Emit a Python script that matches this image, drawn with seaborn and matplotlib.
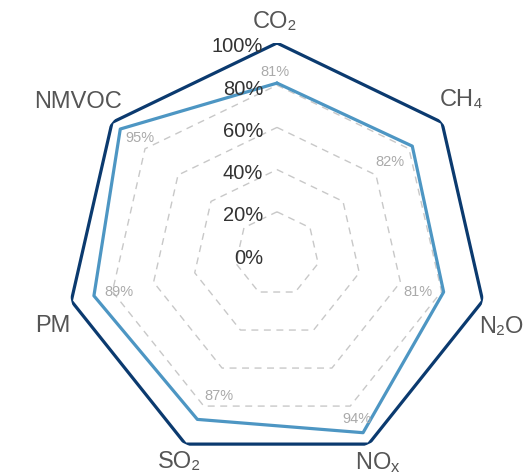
import numpy as np
import pandas as pd
import matplotlib
matplotlib.use("Agg")
import matplotlib.pyplot as plt
import matplotlib.transforms as mtransforms
import seaborn as sns

# Pollutant categories and reduction shares (%)
categories = ["CO\u2082", "CH\u2084", "N\u2082O", r"NO$_\mathregular{x}$", "SO\u2082", "PM", "NMVOC"]
reduction = [81, 82, 81, 94, 87, 89, 95]
full_scale = [100, 100, 100, 100, 100, 100, 100]
radial_ticks = [0, 20, 40, 60, 80, 100]
radial_labels = ["0%", "20%", "40%", "60%", "80%", "100%"]

# pixel offsets for the value annotations, relative to each vertex
label_offsets = [(-2, 11), (-22, -16), (-26, 0), (-6, 14), (22, 23), (25, 4), (20, -9)]
# pixel offsets for the category names, relative to the outer vertex
name_offsets = [(-2, 21), (20, 22), (19, -26), (9, -18), (-6, -18), (-18, -25), (-34, 20)]

sns.set_theme(style="white")
plt.rcParams["font.family"] = ["Liberation Sans", "DejaVu Sans"]
plt.rcParams["mathtext.default"] = "regular"

fig = plt.figure(figsize=(5.25, 4.74), dpi=100)
ax = fig.add_axes([66 / 525, 9 / 474, 422 / 525, 422 / 474], projection="polar")
ax.set_theta_zero_location("N")
ax.set_theta_direction(-1)
ax.set_ylim(0, 100)

n = len(categories)
theta = np.linspace(0, 2 * np.pi, n, endpoint=False)
theta_closed = np.append(theta, 2 * np.pi)

# dashed grid polygons
for level in radial_ticks[1:-1]:
    ax.plot(theta_closed, [level] * (n + 1), color="#c8c8c8", lw=1.0,
            ls=(0, (5, 4)), zorder=1)

df_full = pd.DataFrame({"theta": theta_closed, "value": full_scale + full_scale[:1]})
df_red = pd.DataFrame({"theta": theta_closed, "value": reduction + reduction[:1]})

sns.lineplot(data=df_full, x="theta", y="value", sort=False, estimator=None,
             color="#0b3a6f", lw=2.3, ax=ax, zorder=3)
sns.lineplot(data=df_red, x="theta", y="value", sort=False, estimator=None,
             color="#4d96c3", lw=2.3, ax=ax, zorder=3)

ax.set_ylim(0, 100)
ax.set_xlabel("")
ax.set_ylabel("")
ax.grid(False)
ax.spines["polar"].set_visible(False)
ax.set_xticks([])
ax.set_yticks([])
ax.set_facecolor("none")

# radial scale labels along the top axis
for tick, text in zip(radial_ticks, radial_labels):
    off = mtransforms.offset_copy(ax.transData, fig=fig, x=-14, y=-4, units="dots")
    ax.text(0, tick, text, transform=off, ha="right", va="center",
            fontsize=14.5, color="#333333", zorder=5)

# category labels
for t, name, (dx, dy) in zip(theta, categories, name_offsets):
    off = mtransforms.offset_copy(ax.transData, fig=fig, x=dx, y=dy, units="dots")
    ax.text(t, 100, name, transform=off, ha="center", va="center",
            fontsize=17, color="#555555", zorder=5)

# value annotations
for t, v, (dx, dy) in zip(theta, reduction, label_offsets):
    off = mtransforms.offset_copy(ax.transData, fig=fig, x=dx, y=dy, units="dots")
    ax.text(t, v, f"{v}%", transform=off, ha="center", va="center",
            fontsize=10.5, color="#aaaaaa", zorder=5)

fig.savefig("out.png", dpi=100)
